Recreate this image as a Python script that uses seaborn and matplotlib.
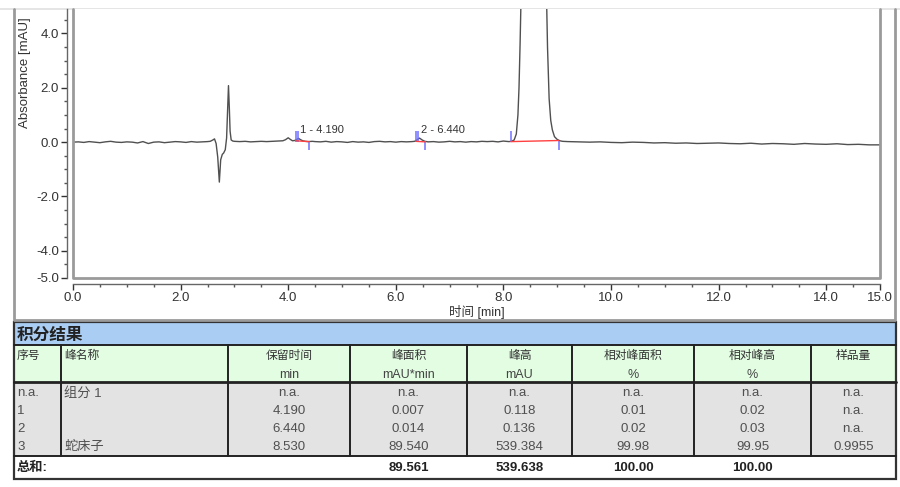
import numpy as np
import pandas as pd
import matplotlib
matplotlib.use('Agg')
import matplotlib.pyplot as plt
from matplotlib.patches import Rectangle
from matplotlib.ticker import MultipleLocator, FixedLocator
import seaborn as sns

sns.set_style('ticks')
plt.rcParams['font.family'] = ['Liberation Sans', 'Noto Sans CJK SC']

# chromatogram trace (min, mAU)
times = [0.0, 0.1, 0.2, 0.3, 0.4, 0.5, 0.6, 0.7, 0.8, 0.9, 1.0, 1.1, 1.2, 1.3, 1.4,
         1.5, 1.6, 1.7, 1.8, 1.9, 2.0, 2.1, 2.2, 2.3, 2.4, 2.5,
         2.55, 2.60, 2.63, 2.66, 2.69, 2.72, 2.745, 2.775, 2.80, 2.83, 2.855, 2.875,
         2.89, 2.905, 2.92, 2.94, 2.97, 3.0,
         3.1, 3.2, 3.3, 3.4, 3.5, 3.6, 3.7, 3.8, 3.9, 3.95, 4.0, 4.04, 4.08, 4.12,
         4.16, 4.19, 4.23, 4.27, 4.32, 4.37, 4.45,
         4.5, 4.6, 4.7, 4.8, 4.9, 5.0, 5.1, 5.2, 5.3, 5.4, 5.5, 5.6, 5.7, 5.8, 5.9,
         6.0, 6.1, 6.2, 6.3, 6.35, 6.39, 6.44, 6.49, 6.54, 6.6,
         6.7, 6.8, 6.9, 7.0, 7.1, 7.2, 7.3, 7.4, 7.5, 7.6, 7.7, 7.8, 7.9, 8.0, 8.1,
         8.15, 8.20, 8.24, 8.27, 8.29, 8.31, 8.33, 8.36, 8.42, 8.48, 8.53, 8.58,
         8.65, 8.72, 8.77, 8.80, 8.82, 8.85, 8.88, 8.91, 8.95, 9.0, 9.05, 9.1,
         9.2, 9.4, 9.6, 9.8, 10.0, 10.2, 10.4, 10.6, 10.8, 11.0, 11.2, 11.4, 11.6,
         11.8, 12.0, 12.2, 12.4, 12.6, 12.8, 13.0, 13.2, 13.4, 13.6, 13.8, 14.0,
         14.2, 14.4, 14.6, 14.8, 15.0]
absorb = [0.00, 0.01, -0.01, 0.02, 0.00, -0.02, 0.01, 0.03, 0.00, -0.01, 0.01, 0.00,
          -0.03, 0.02, -0.05, 0.00, 0.01, -0.02, 0.00, 0.02, 0.01, -0.01, 0.02, 0.00,
          0.01, 0.02,
          0.03, 0.08, 0.12, -0.05, -0.55, -1.47, -0.65, -0.45, -0.40, -0.28, 0.15, 1.2,
          2.08, 1.3, 0.4, 0.08, 0.04, 0.03,
          0.02, 0.03, 0.01, 0.02, 0.03, 0.02, 0.03, 0.04, 0.05, 0.09, 0.16, 0.10, 0.05,
          0.06, 0.10, 0.14, 0.09, 0.05, 0.03, 0.02, 0.03,
          0.02, 0.01, 0.03, 0.00, 0.02, 0.01, -0.01, 0.02, 0.00, 0.01, -0.01, 0.02,
          0.03, 0.01, 0.02, 0.00, 0.02, 0.01, 0.02, 0.03, 0.08, 0.15, 0.08, 0.03, 0.01,
          0.02, 0.00, 0.01, 0.03, 0.01, 0.02, 0.00, 0.02, 0.01, 0.03, 0.02, 0.03, 0.01,
          0.04, 0.02,
          0.03, 0.08, 0.3, 1.0, 2.0, 3.6, 5.5, 12.0, 80.0, 300.0, 539.4, 400.0,
          150.0, 40.0, 10.0, 5.5, 3.5, 1.6, 0.8, 0.45, 0.2, 0.1, 0.05, 0.03,
          0.02, 0.01, 0.00, 0.01, -0.01, -0.02, 0.00, -0.01, -0.03, -0.02, -0.04,
          -0.03, -0.05, -0.04, -0.03, -0.05, -0.06, -0.04, -0.07, -0.05, -0.06, -0.08,
          -0.05, -0.07, -0.08, -0.06, -0.09, -0.08, -0.10, -0.10]

# integration marks
start_marks = [4.14, 4.18, 6.37, 6.41, 8.14]
end_marks = [4.38, 6.55, 9.03]
base_from = [4.14, 6.37, 8.14]
base_to = [4.38, 6.55, 9.03]
base_y0 = [0.05, 0.03, 0.02]
base_y1 = [0.02, 0.01, 0.06]
label_ids = ['1', '2']
label_rt = [4.190, 6.440]

# result table
title = '积分结果'
hdr_top = ['序号', '峰名称', '保留时间', '峰面积', '峰高', '相对峰面积', '相对峰高', '样品量']
hdr_unit = ['', '', 'min', 'mAU*min', 'mAU', '%', '%', '']
row_no = ['n.a.', '1', '2', '3']
peak_name = ['组分 1', '', '', '蛇床子']
ret_time = ['n.a.', '4.190', '6.440', '8.530']
area = ['n.a.', '0.007', '0.014', '89.540']
height = ['n.a.', '0.118', '0.136', '539.384']
rel_area = ['n.a.', '0.01', '0.02', '99.98']
rel_height = ['n.a.', '0.02', '0.03', '99.95']
amount = ['n.a.', 'n.a.', 'n.a.', '0.9955']
total_label = '总和:'
totals = ['', '', '', '89.561', '539.638', '100.00', '100.00', '']

W, H = 900, 487
fig = plt.figure(figsize=(W / 100, H / 100), dpi=100)

# pixel-coordinate overlay for frame and table
pax = fig.add_axes([0, 0, 1, 1], zorder=0)
pax.set_xlim(0, W)
pax.set_ylim(H, 0)
pax.axis('off')

ax = fig.add_axes([73 / W, (H - 278) / H, (880 - 73) / W, (278 - 9) / H], zorder=1)
df = pd.DataFrame({'time': times, 'abs': absorb})
sns.lineplot(data=df, x='time', y='abs', ax=ax, color='#505050', lw=1.0, sort=False)

ax.vlines(start_marks, 0.0, 0.42, color='#7070ff', lw=1.1)
ax.vlines(end_marks, -0.28, 0.05, color='#7070ff', lw=1.1)
for x0, x1, y0, y1 in zip(base_from, base_to, base_y0, base_y1):
    ax.plot([x0, x1], [y0, y1], color='#ff4040', lw=1.0)
for pid, rt in zip(label_ids, label_rt):
    ax.text(rt + 0.03, 0.28, f'{pid} - {rt:.3f}', fontsize=8, color='#333333',
            ha='left', va='bottom')

ax.set_xlim(0, 15)
ax.set_ylim(-5.0, 4.9)
ax.xaxis.set_major_locator(FixedLocator([0, 2, 4, 6, 8, 10, 12, 14, 15]))
ax.xaxis.set_minor_locator(MultipleLocator(0.5))
ax.yaxis.set_major_locator(FixedLocator([-5, -4, -2, 0, 2, 4]))
ax.yaxis.set_minor_locator(MultipleLocator(0.5))
ax.xaxis.set_major_formatter(lambda v, p: f'{v:.1f}')
ax.yaxis.set_major_formatter(lambda v, p: f'{v:.1f}')
ax.set_xlabel('时间 [min]', fontsize=9, color='#333333', labelpad=1)
ax.set_ylabel('')
ax.tick_params(axis='both', which='major', labelsize=9.5, colors='#333333',
               length=4, width=1, pad=2)
ax.tick_params(axis='both', which='minor', length=2.5, width=1, color='#555555')
for side in ['top', 'right']:
    ax.spines[side].set_visible(False)
for side in ['left', 'bottom']:
    ax.spines[side].set_position(('outward', 4))
    ax.spines[side].set_color('#666666')
    ax.spines[side].set_linewidth(1)
# inner plot frame
ax.plot([0, 0, 1, 1], [1, 0, 0, 1], transform=ax.transAxes, color='#9a9a9a',
        lw=2, clip_on=False)
fig.text(25 / W, 1 - 73 / H, 'Absorbance [mAU]', rotation=90, fontsize=9.5,
         color='#333333', ha='center', va='center')

# outer chromatogram frame
pax.plot([0, W], [9, 9], color='#e0e0e0', lw=1.2)
pax.plot([14, 14, 895, 895], [9, 320, 320, 9], color='#9a9a9a', lw=2)

# table
cols = [14, 61, 228, 350, 467, 572, 694, 811, 896]
y_title, y_hdr, y_data, y_tot, y_end = 322, 345, 382, 456, 479
pax.add_patch(Rectangle((14, y_title), 882, y_hdr - y_title, fc='#a9cdf3', ec='none'))
pax.add_patch(Rectangle((14, y_hdr), 882, y_data - y_hdr, fc='#e2fde2', ec='none'))
pax.add_patch(Rectangle((14, y_data), 882, y_tot - y_data, fc='#e3e3e3', ec='none'))
pax.add_patch(Rectangle((14, y_tot), 882, y_end - y_tot, fc='white', ec='none'))
pax.add_patch(Rectangle((14, y_title), 882, y_end - y_title, fc='none', ec='#333333', lw=1.6))
for yy, lw in [(y_hdr, 1.4), (y_data, 2.0), (y_tot, 1.4)]:
    pax.plot([14, 896], [yy, yy], color='#222222', lw=lw)
for cx in cols[1:-1]:
    pax.plot([cx, cx], [y_hdr, y_tot], color='#222222', lw=1.4)

pax.text(17, 335, title, fontsize=12, fontweight='bold', color='#222222',
         ha='left', va='center')

def cell_x(i):
    if i < 2:
        return cols[i] + 3, 'left'
    return (cols[i] + cols[i + 1]) / 2, 'center'

for i, (top, unit) in enumerate(zip(hdr_top, hdr_unit)):
    x, ha = cell_x(i)
    pax.text(x, 356, top, fontsize=8.5, color='#333333', ha=ha, va='center')
    if unit:
        pax.text(x, 375, unit, fontsize=9, color='#444444', ha=ha, va='center')

columns = [row_no, peak_name, ret_time, area, height, rel_area, rel_height, amount]
row_y = [393, 411, 429, 447]
for i, col in enumerate(columns):
    x, ha = cell_x(i)
    for yy, val in zip(row_y, col):
        pax.text(x, yy, val, fontsize=9.5, color='#505050', ha=ha, va='center')

pax.text(17, 468, total_label, fontsize=9.5, fontweight='bold', color='#222222',
         ha='left', va='center')
for i, val in enumerate(totals):
    if val:
        x, ha = cell_x(i)
        pax.text(x, 468, val, fontsize=9.5, fontweight='bold', color='#222222',
                 ha=ha, va='center')

fig.savefig('out.png', dpi=100)
